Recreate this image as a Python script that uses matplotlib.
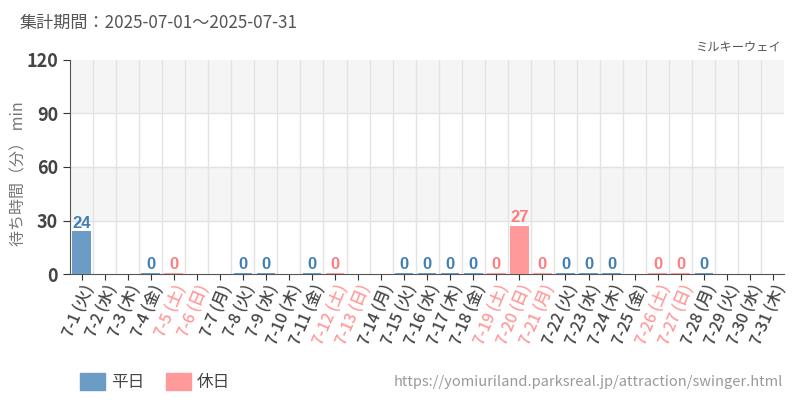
import numpy as np
import matplotlib.pyplot as plt
from matplotlib.patches import Patch

plt.rcParams['font.family'] = ['Noto Sans CJK JP', 'DejaVu Sans']

# データ
days = ['7-1', '7-2', '7-3', '7-4', '7-5', '7-6', '7-7', '7-8', '7-9', '7-10',
        '7-11', '7-12', '7-13', '7-14', '7-15', '7-16', '7-17', '7-18', '7-19', '7-20',
        '7-21', '7-22', '7-23', '7-24', '7-25', '7-26', '7-27', '7-28', '7-29', '7-30', '7-31']
weekdays = ['火', '水', '木', '金', '土', '日', '月', '火', '水', '木',
            '金', '土', '日', '月', '火', '水', '木', '金', '土', '日',
            '月', '火', '水', '木', '金', '土', '日', '月', '火', '水', '木']
holiday = [0, 0, 0, 0, 1, 1, 0, 0, 0, 0,
           0, 1, 1, 0, 0, 0, 0, 0, 1, 1,
           1, 0, 0, 0, 0, 1, 1, 0, 0, 0, 0]
wait = [24, None, None, 0, 0, None, None, 0, 0, None,
        0, 0, None, None, 0, 0, 0, 0, 0, 27,
        0, 0, 0, 0, None, 0, 0, 0, None, None, None]

c_week = '#6a9cc6'
c_hol = '#ff999a'
c_week_txt = '#3f7fb5'
c_hol_txt = '#ff7c7e'
c_text = '#444444'

fig = plt.figure(figsize=(8, 4), dpi=100)
ax = fig.add_axes([0.0875, 0.315, 0.893, 0.535])

x = np.arange(len(days))
ax.set_xlim(-0.5, len(days) - 0.5)
ax.set_ylim(0, 120)

# 背景の帯
for lo in (30, 90):
    ax.axhspan(lo, lo + 30, color='#f5f5f5', zorder=0)
for yv in (30, 60, 90):
    ax.axhline(yv, color='#e3e3e3', lw=1, zorder=1)
for xv in x[:-1] + 0.5:
    ax.axvline(xv, color='#e3e3e3', lw=1, zorder=1)

for i, v in enumerate(wait):
    if v is None:
        continue
    col = c_hol if holiday[i] else c_week
    tcol = c_hol_txt if holiday[i] else c_week_txt
    h = v if v > 0 else 0.6
    ax.bar(x[i], h, width=0.8, color=col, zorder=3)
    ax.text(x[i], h + 0.3, str(v), ha='center', va='bottom', color=tcol,
            fontsize=12, fontweight='bold', family=['Liberation Sans', 'DejaVu Sans'],
            zorder=4)

ax.set_xticks(x)
ax.set_xticklabels([d + ' (' + w + ')' for d, w in zip(days, weekdays)],
                   rotation=67, ha='right', va='top', rotation_mode='anchor',
                   fontsize=11.5, fontweight='medium')
for lab, h in zip(ax.get_xticklabels(), holiday):
    lab.set_color(c_hol if h else c_text)

ax.set_yticks([0, 30, 60, 90, 120])
ax.tick_params(axis='y', labelsize=13, labelcolor=c_text, length=5, color='#333333')
ax.tick_params(axis='x', length=4, color='#333333', pad=2)
for lab in ax.get_yticklabels():
    lab.set_fontweight('bold')

ax.set_ylabel('待ち時間（分） min', color='#777777', fontsize=11.5)
ax.yaxis.set_label_coords(-0.06, 0.47)

for s in ('top', 'right'):
    ax.spines[s].set_visible(False)
ax.spines['left'].set_color('#555555')
ax.spines['bottom'].set_color('#555555')

fig.text(0.025, 0.943, '集計期間：2025-07-01～2025-07-31', fontsize=12.3, color='#555555',
         va='center')
fig.text(0.976, 0.882, 'ミルキーウェイ', fontsize=8.8, color='#555555', ha='right', va='center')

leg = fig.legend(handles=[Patch(color=c_week, label='平日'), Patch(color=c_hol, label='休日')],
                 loc='center left', bbox_to_anchor=(0.1, 0.045), ncol=2, frameon=False,
                 fontsize=12, handlelength=1.5, handleheight=1.15, columnspacing=1.3,
                 handletextpad=0.36, borderpad=0, borderaxespad=0)
for t in leg.get_texts():
    t.set_color(c_text)

fig.text(0.979, 0.045, 'https://yomiuriland.parksreal.jp/attraction/swinger.html',
         fontsize=10.5, color='#999999', ha='right', va='center')

fig.savefig('out.png', dpi=100)
